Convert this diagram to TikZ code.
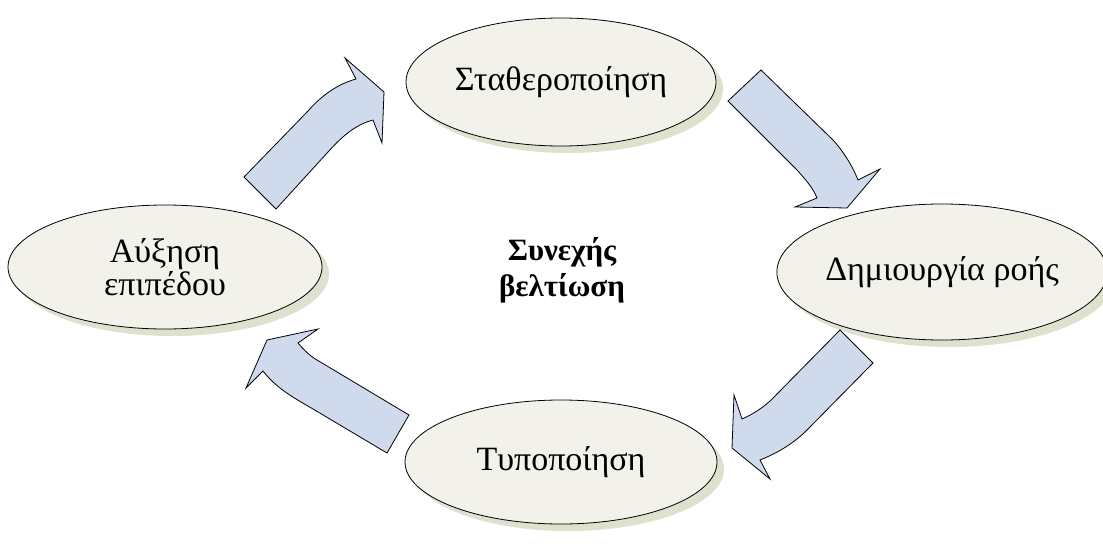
\documentclass[tikz,border=0pt]{standalone}
\usepackage{fontspec}
\setmainfont{Liberation Serif}
\usetikzlibrary{shapes.geometric,shadows}
\definecolor{ellfill}{HTML}{F2F2EA}
\definecolor{ellshadow}{HTML}{DEE1CD}
\definecolor{arrfill}{HTML}{CFDAEC}
\tikzset{
  stage/.style={ellipse, draw=black, line width=0.8pt, fill=ellfill, inner sep=0pt,
    align=center, font=\fontsize{34}{33}\selectfont,
    drop shadow={shadow xshift=7pt, shadow yshift=-7pt, fill=ellshadow, opacity=1}},
  blockarrow/.style={draw=black, line width=0.8pt, fill=arrfill, line join=miter},
}
\begin{document}
\begin{tikzpicture}[x=1pt,y=-1pt]
\useasboundingbox (0,0) rectangle (1103,546);

% the four stages of the cycle
\node[stage, minimum width=310pt, minimum height=128pt] (stab) at (561,82) {Σταθεροποίηση};
\node[stage, minimum width=314pt, minimum height=124pt] (level) at (165,267) {Αύξηση\\επιπέδου};
\node[stage, minimum width=310pt, minimum height=136pt] (flow) at (942,272) {Δημιουργία ροής};
\node[stage, minimum width=312pt, minimum height=124pt] (std) at (561,462) {Τυποποίηση};

% centre caption
\node[align=center, font=\fontsize{31}{36}\selectfont\bfseries] (core) at (562,270) {Συνεχής\\βελτίωση};

% curved block arrows running clockwise round the cycle
\draw[blockarrow] (244,177) -- (276,209) -- (328,152)
  .. controls (345,133) and (358,124) .. (373,120)
  -- (382,143) -- (384,92) -- (345,58) -- (356,79)
  .. controls (338,84) and (322,95) .. (308,111) -- cycle;

\draw[blockarrow] (761,70) -- (728,101) -- (797,170)
  .. controls (806,180) and (813,188) .. (817,198)
  -- (795,207) -- (847,208) -- (880,169) -- (858,180)
  .. controls (852,165) and (843,151) .. (833,140) -- cycle;

\draw[blockarrow] (840,330) -- (873,363) -- (807,430)
  .. controls (795,442) and (780,452) .. (760,460)
  -- (770,479) -- (732,448) -- (734,395) -- (742,419)
  .. controls (756,413) and (768,404) .. (777,394) -- cycle;

\draw[blockarrow] (409,415) -- (387,453) -- (313,409)
  .. controls (294,398) and (276,388) .. (263,371)
  -- (246,388) -- (267,340) -- (318,329) -- (298,343)
  .. controls (304,350) and (310,356) .. (317,360) -- cycle;
\end{tikzpicture}
\end{document}
